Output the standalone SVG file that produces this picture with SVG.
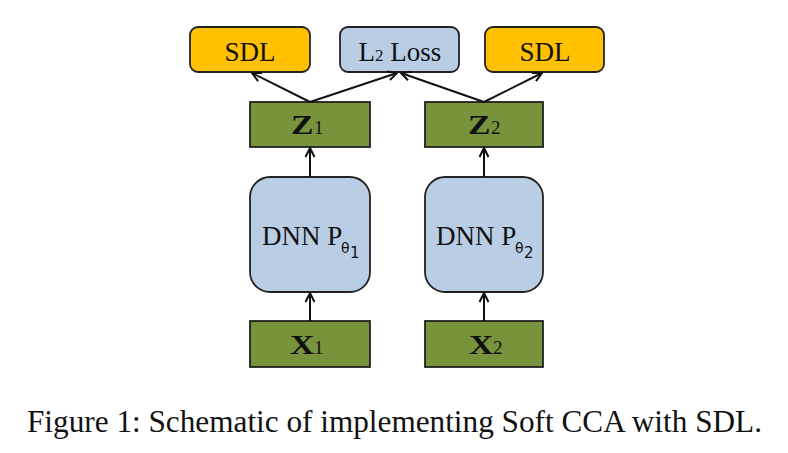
<svg xmlns="http://www.w3.org/2000/svg" width="788" height="453" viewBox="0 0 788 453">
<defs>
<marker id="ah" viewBox="0 0 12 12" refX="11" refY="6" markerWidth="12" markerHeight="12" markerUnits="userSpaceOnUse" orient="auto">
<path d="M2,1.5 L11,6 L2,10.5" fill="none" stroke="#111" stroke-width="2"/>
</marker>
<style>
.bx{stroke:#222;stroke-width:1.8}
.sdl{fill:#FFC000}
.lb{fill:#B9CDE5}
.gr{fill:#77933C}
.t{font-family:"Liberation Serif","Times New Roman",serif;fill:#111}
.s{font-family:"DejaVu Sans",sans-serif;fill:#111}
.big{font-size:27px;font-weight:bold}
.sub{font-size:19px}
.c{stroke:#111;stroke-width:2;fill:none;marker-end:url(#ah)}
</style>
</defs>
<rect width="788" height="453" fill="#fff"/>
<g id="sdl1"><rect class="bx sdl" x="190" y="27" width="120" height="45" rx="8"/><text class="t" x="250" y="61" font-size="27" text-anchor="middle">SDL</text></g>
<g id="l2loss"><rect class="bx lb" x="340" y="27" width="119" height="45" rx="8"/><text class="t" x="400" y="61" font-size="27" text-anchor="middle">L<tspan font-size="17">2</tspan> Loss</text></g>
<g id="sdl2"><rect class="bx sdl" x="485" y="27" width="119" height="45" rx="8"/><text class="t" x="545" y="61" font-size="27" text-anchor="middle">SDL</text></g>
<g id="z1"><rect class="bx gr" x="250" y="102" width="120" height="45"/><text class="t big" transform="translate(291,134) scale(1.25,1)">Z</text><text class="t sub" x="314" y="134">1</text></g>
<g id="z2"><rect class="bx gr" x="425" y="102" width="118" height="45"/><text class="t big" transform="translate(468,134) scale(1.25,1)">Z</text><text class="t sub" x="491" y="134">2</text></g>
<g id="dnn1"><rect class="bx lb" x="250" y="177" width="120" height="115" rx="20"/><text class="t" x="262" y="245" font-size="27">DNN P</text><text class="s" x="341" y="253" font-size="14">θ</text><text class="s" x="350" y="258" font-size="15">1</text></g>
<g id="dnn2"><rect class="bx lb" x="425" y="177" width="118" height="115" rx="20"/><text class="t" x="436" y="245" font-size="27">DNN P</text><text class="s" x="515" y="253" font-size="14">θ</text><text class="s" x="524" y="258" font-size="15">2</text></g>
<g id="x1"><rect class="bx gr" x="250" y="321" width="120" height="46"/><text class="t big" transform="translate(290,354) scale(1.25,1)">X</text><text class="t sub" x="314" y="354">1</text></g>
<g id="x2"><rect class="bx gr" x="425" y="321" width="118" height="46"/><text class="t big" transform="translate(469,354) scale(1.25,1)">X</text><text class="t sub" x="493" y="354">2</text></g>
<g id="connectors">
<line class="c" x1="310" y1="102" x2="252" y2="73"/>
<line class="c" x1="310" y1="102" x2="397" y2="73"/>
<line class="c" x1="484" y1="102" x2="401" y2="73"/>
<line class="c" x1="484" y1="102" x2="542" y2="73"/>
<line class="c" x1="310" y1="177" x2="310" y2="148"/>
<line class="c" x1="484" y1="177" x2="484" y2="148"/>
<line class="c" x1="310" y1="321" x2="310" y2="293"/>
<line class="c" x1="484" y1="321" x2="484" y2="293"/>
</g>
<text class="t" x="27" y="432" font-size="31" textLength="735" lengthAdjust="spacingAndGlyphs">Figure 1: Schematic of implementing Soft CCA with SDL.</text>
</svg>
